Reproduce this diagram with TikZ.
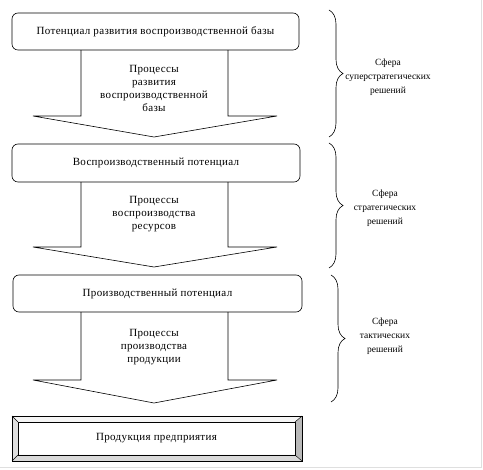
\documentclass[tikz,border=0pt]{standalone}
\usepackage{fontspec}
\setmainfont{Liberation Serif}
\newfontfamily\wordfont[LetterSpace=3]{Liberation Serif}
\usetikzlibrary{positioning,decorations.pathreplacing}

\tikzset{
  potbox/.style={draw, line width=0.6pt, rounded corners=6pt, fill=white,
    inner sep=0pt, outer sep=0pt, font=\wordfont\fontsize{11}{13}\selectfont},
  proctext/.style={align=center, font=\wordfont\fontsize{11}{13}\selectfont},
  procarrow/.style={draw, line width=0.6pt, fill=white},
  sferabrace/.style={draw, line width=0.6pt, decorate,
    decoration={brace, amplitude=14pt}},
  sferatext/.style={align=center, font=\fontsize{9.5}{14}\selectfont},
}

\begin{document}
\begin{tikzpicture}[x=1pt, y=-1pt]
	\useasboundingbox (0,0) rectangle (483,470);
	\draw [gray!25, line width=0.8pt] (0,467.5) -- (481.5,467.5) -- (481.5,0);
	% block arrows
	\draw [procarrow] (81,50) -- (81,116) -- (33,116) -- (154,137) -- (277,116) -- (228,116) -- (228,50);
	\draw [procarrow] (81,182) -- (81,247) -- (33,247) -- (154,267) -- (277,247) -- (228,247) -- (228,182);
	\draw [procarrow] (81,312) -- (81,380) -- (33,380) -- (154,403) -- (277,380) -- (228,380) -- (228,312);
	% potentials
	\node [potbox, minimum width=287pt, minimum height=37pt] (razvitie) at (155.5,31.5) {Потенциал развития воспроизводственной базы};
	\node [potbox, minimum width=288pt, minimum height=38pt] (vosproizv) at (156,163) {Воспроизводственный потенциал};
	\node [potbox, minimum width=289pt, minimum height=37pt] (proizv) at (157.5,293.5) {Производственный потенциал};
	\node [proctext] (proc1) at (154,88) {Процессы\\развития\\воспроизводственной\\базы};
	\node [proctext] (proc2) at (154,214) {Процессы\\воспроизводства\\ресурсов};
	\node [proctext] (proc3) at (154,347) {Процессы\\производства\\продукции};
	% product (bevel frame)
	\draw [fill=white, line width=0.6pt] (12,416) rectangle (302,461);
	\fill [gray!8] (12,416) -- (302,416) -- (295,422) -- (18,422) -- cycle;
	\fill [gray!25] (12,416) -- (18,422) -- (18,455) -- (12,461) -- cycle;
	\fill [gray!30] (12,461) -- (18,455) -- (295,455) -- (302,461) -- cycle;
	\fill [gray!55] (302,416) -- (295,422) -- (295,455) -- (302,461) -- cycle;
	\draw [line width=0.6pt] (12,416) rectangle (302,461);
	\draw [line width=0.4pt] (12,416) -- (18,422) (302,416) -- (295,422) (12,461) -- (18,455) (302,461) -- (295,455);
	\node [draw, line width=0.6pt, minimum width=277pt, minimum height=33pt, inner sep=0pt,
		font=\wordfont\fontsize{11}{13}\selectfont] (produkt) at (156.5,438.5) {Продукция предприятия};
	% spheres of decisions
	\draw [sferabrace] (329,10) -- (329,137);
	\draw [sferabrace] (329,143) -- (329,268);
	\draw [sferabrace] (331,275) -- (331,402);
	\node [sferatext] (superstrat) at (388,77) {Сфера\\суперстратегических\\решений};
	\node [sferatext] (strat) at (385,208) {Сфера\\стратегических\\решений};
	\node [sferatext] (takt) at (385,336) {Сфера\\тактических\\решений};
\end{tikzpicture}
\end{document}
